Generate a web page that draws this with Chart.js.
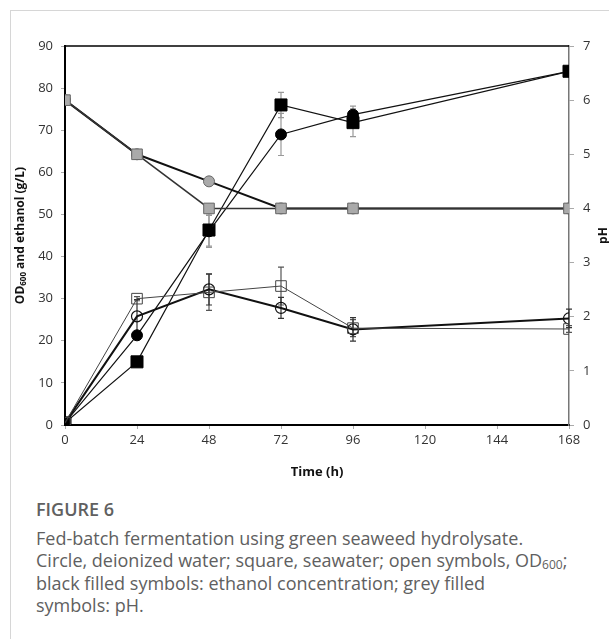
<!DOCTYPE html>
<html>
<head>
<meta charset="utf-8">
<script src="https://cdn.jsdelivr.net/npm/chart.js@4.4.1/dist/chart.umd.min.js"></script>
<style>
  html, body { margin: 0; padding: 0; background: #fff; }
  body { width: 609px; height: 639px; position: relative; overflow: hidden; }
  .frame { position: absolute; left: 10px; top: 10px; right: -2px; bottom: -2px; border-left: 1px solid #d6d6d6; border-top: 1px solid #d6d6d6; }
  #wrap { position: absolute; left: 0; top: 0; width: 609px; height: 490px; }
  .caption { position: absolute; left: 36px; top: 498px; font-family: "Open Sans", sans-serif; font-size: 18px; line-height: 22.5px; color: #606060; white-space: nowrap; }
  .caption b { font-weight: 600; display: block; margin-bottom: 6px; }
  .caption sub { font-size: 12px; vertical-align: -2px; line-height: 0; }
</style>
</head>
<body>
<div class="frame"></div>
<div id="wrap"><canvas id="chart" width="609" height="490"></canvas></div>
<div class="caption">
  <b>FIGURE 6</b>
  Fed-batch fermentation using green seaweed hydrolysate.<br>
  Circle, deionized water; square, seawater; open symbols, OD<sub>600</sub>;<br>
  black filled symbols: ethanol concentration; grey filled<br>
  symbols: pH.
</div>
<script>
const hours = [0, 24, 48, 72, 96, 168];
const xTicks = [0, 24, 48, 72, 96, 120, 144, 168];

// ethanol (g/L), black filled
const ethanolCircle = [0.5, 21.3, 46.0, 69.0, 73.7, 84.0];
const ethanolCircleErr = [0, 0, 3.8, 5.0, 2.0, 0];
const ethanolSquare = [0.5, 15.0, 46.3, 76.0, 71.8, 84.0];
const ethanolSquareErr = [0, 0, 3.8, 3.0, 3.3, 0];

// OD600, open symbols
const odCircle = [0.5, 25.8, 32.2, 27.8, 22.7, 25.3];
const odCircleErr = [0, 4.0, 3.7, 2.5, 2.8, 2.2];
const odSquare = [0.5, 30.0, 31.5, 33.0, 23.0, 22.8];
const odSquareErr = [0, 0.5, 4.3, 4.5, 2.0, 0.8];

// pH, grey filled (right axis)
const phCircle = [6.0, 5.0, 4.5, 4.0, 4.0, 4.0];
const phSquare = [6.0, 5.0, 4.0, 4.0, 4.0, 4.0];

const pts = arr => hours.map((h, i) => ({ x: h, y: arr[i] }));

const errorBars = {
  id: 'errorBars',
  beforeDatasetsDraw(chart) {
    const ctx = chart.ctx;
    chart.data.datasets.forEach(ds => {
      if (!ds.errors) return;
      const xs = chart.scales.x, ys = chart.scales[ds.yAxisID || 'y'];
      ctx.save();
      ctx.strokeStyle = ds.errorColor;
      ctx.lineWidth = 1.2;
      ds.errors.forEach((e, i) => {
        if (!e) return;
        const px = xs.getPixelForValue(hours[i]);
        const top = ys.getPixelForValue(ds.data[i].y + e);
        const bot = ys.getPixelForValue(ds.data[i].y - e);
        ctx.beginPath();
        ctx.moveTo(px, top); ctx.lineTo(px, bot);
        ctx.moveTo(px - 3, top); ctx.lineTo(px + 3, top);
        ctx.moveTo(px - 3, bot); ctx.lineTo(px + 3, bot);
        ctx.stroke();
      });
      ctx.restore();
    });
  }
};

const frameTitles = {
  id: 'frameTitles',
  afterDraw(chart) {
    const ctx = chart.ctx, a = chart.chartArea;
    ctx.save();
    ctx.strokeStyle = '#000';
    ctx.lineWidth = 1.5;
    ctx.beginPath();
    ctx.moveTo(a.left, a.top); ctx.lineTo(a.right, a.top);
    ctx.stroke();

    ctx.fillStyle = '#111';
    ctx.textAlign = 'center';
    ctx.textBaseline = 'middle';
    ctx.font = 'bold 13px "Open Sans", sans-serif';
    ctx.fillText('Time (h)', (a.left + a.right) / 2, 472);

    // left title with subscript
    const cy = (a.top + a.bottom) / 2;
    ctx.translate(21, cy);
    ctx.rotate(-Math.PI / 2);
    const p1 = 'OD', p2 = '600', p3 = ' and ethanol (g/L)';
    const f1 = 'bold 12px "Open Sans", sans-serif', f2 = 'bold 8px "Open Sans", sans-serif';
    ctx.font = f1; const w1 = ctx.measureText(p1).width, w3 = ctx.measureText(p3).width;
    ctx.font = f2; const w2 = ctx.measureText(p2).width;
    const x0 = -(w1 + w2 + w3) / 2;
    ctx.textAlign = 'left';
    ctx.font = f1; ctx.fillText(p1, x0, 0);
    ctx.font = f2; ctx.fillText(p2, x0 + w1, 3);
    ctx.font = f1; ctx.fillText(p3, x0 + w1 + w2, 0);
    ctx.restore();

    ctx.save();
    ctx.fillStyle = '#111';
    ctx.font = 'bold 12px "Open Sans", sans-serif';
    ctx.textAlign = 'center';
    ctx.textBaseline = 'middle';
    ctx.translate(604, cy);
    ctx.rotate(-Math.PI / 2);
    ctx.fillText('pH', 0, 0);
    ctx.restore();
  }
};

const tickFont = { family: '"Open Sans", sans-serif', size: 13 };

new Chart(document.getElementById('chart'), {
  type: 'line',
  data: {
    datasets: [
      { label: 'pH square', data: pts(phSquare), yAxisID: 'y1', borderColor: '#333', borderWidth: 1.5,
        pointStyle: 'rect', pointRadius: 7.5, pointBackgroundColor: '#aaa', pointBorderColor: '#666', pointBorderWidth: 1 },
      { label: 'pH circle', data: pts(phCircle), yAxisID: 'y1', borderColor: '#111', borderWidth: 2,
        pointStyle: 'circle', pointRadius: 5.5, pointBackgroundColor: '#aaa', pointBorderColor: '#666', pointBorderWidth: 1 },
      { label: 'OD square', data: pts(odSquare), errors: odSquareErr, errorColor: '#555', borderColor: '#444', borderWidth: 1,
        pointStyle: 'rect', pointRadius: 7.5, pointBackgroundColor: 'rgba(0,0,0,0)', pointBorderColor: '#444', pointBorderWidth: 1 },
      { label: 'OD circle', data: pts(odCircle), errors: odCircleErr, errorColor: '#333', borderColor: '#111', borderWidth: 2,
        pointStyle: 'circle', pointRadius: 5.5, pointBackgroundColor: 'rgba(0,0,0,0)', pointBorderColor: '#111', pointBorderWidth: 1.2 },
      { label: 'Ethanol circle', data: pts(ethanolCircle), errors: ethanolCircleErr, errorColor: '#999', borderColor: '#111', borderWidth: 1.2,
        pointStyle: 'circle', pointRadius: 5.5, pointBackgroundColor: '#000', pointBorderColor: '#000', pointBorderWidth: 1 },
      { label: 'Ethanol square', data: pts(ethanolSquare), errors: ethanolSquareErr, errorColor: '#999', borderColor: '#111', borderWidth: 1.2,
        pointStyle: 'rect', pointRadius: 8.5, pointBackgroundColor: '#000', pointBorderColor: '#000', pointBorderWidth: 1 }
    ]
  },
  options: {
    responsive: false,
    animation: false,
    layout: { padding: { top: 46, left: 0, right: 0, bottom: 0 } },
    plugins: { legend: { display: false }, tooltip: { enabled: false } },
    scales: {
      x: {
        type: 'linear', min: 0, max: 168,
        afterBuildTicks: s => { s.ticks = xTicks.map(v => ({ value: v })); },
        afterFit: s => { s.height = 65; },
        border: { color: '#000', width: 2 },
        grid: { drawOnChartArea: false, drawTicks: true, tickLength: 4, color: '#aaa' },
        ticks: { font: tickFont, color: '#333', padding: 3, maxRotation: 0 }
      },
      y: {
        position: 'left', min: 0, max: 90,
        ticks: { stepSize: 10, font: tickFont, color: '#333', padding: 8 },
        afterFit: s => { s.width = 65; },
        border: { color: '#000', width: 2 },
        grid: { drawOnChartArea: false, tickLength: 4, color: '#aaa' }
      },
      y1: {
        position: 'right', min: 0, max: 7,
        ticks: { stepSize: 1, font: tickFont, color: '#333', padding: 9 },
        afterFit: s => { s.width = 40; },
        border: { color: '#777', width: 1.5 },
        grid: { drawOnChartArea: false, tickLength: 5, color: '#aaa' }
      }
    }
  },
  plugins: [errorBars, frameTitles]
});
</script>
</body>
</html>
